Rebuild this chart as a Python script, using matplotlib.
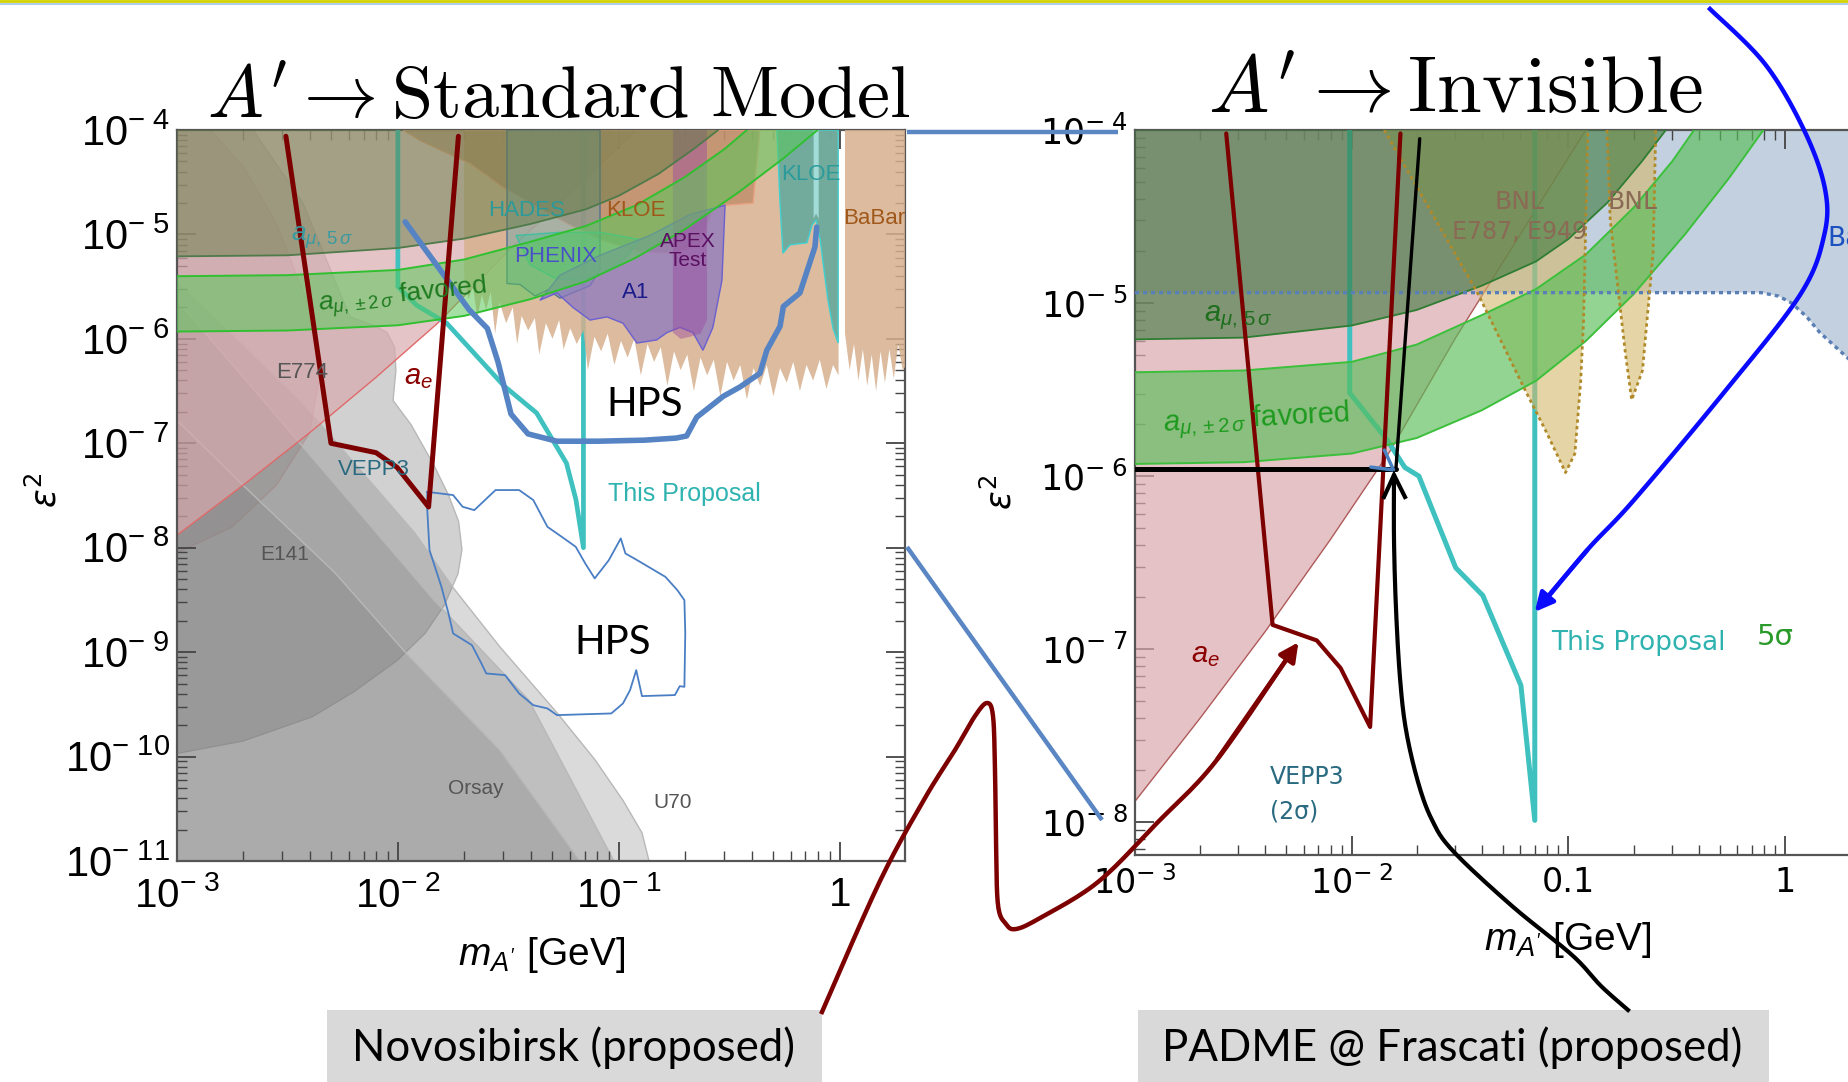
import numpy as np
import matplotlib
matplotlib.use("Agg")
import matplotlib.pyplot as plt
from matplotlib import font_manager as fm
from matplotlib.patches import Polygon, Rectangle
from matplotlib.colors import to_rgba
from matplotlib.ticker import LogLocator, NullFormatter, FixedLocator, FixedFormatter

_names = {f.name for f in fm.fontManager.ttflist}
NARROW = "Liberation Sans Narrow" if "Liberation Sans Narrow" in _names else "Liberation Sans"
SANS = "Liberation Sans"
WIDE = "DejaVu Sans"
CAL = "Lato" if "Lato" in _names else "DejaVu Sans"

plt.rcParams.update({
    "font.family": [SANS, "DejaVu Sans"],
    "mathtext.fontset": "custom",
    "mathtext.rm": SANS,
    "mathtext.it": SANS + ":italic",
    "mathtext.bf": SANS + ":bold",
    "mathtext.sf": SANS,
})

# ------------------------------------------------------------------
# DATA  (log10 of mass [GeV] and log10 of eps^2)
# ------------------------------------------------------------------
# shared physics bands (both panels)
amu5_lm = [-3, -2.5, -2, -1.7, -1.4, -1.15, -1.0, -0.82, -0.66, -0.55]
amu5_le = [-5.21, -5.20, -5.13, -5.04, -4.90, -4.76, -4.63, -4.42, -4.18, -4.0]
amu2hi_lm = [-3, -2.5, -2, -1.7, -1.4, -1.15, -0.92, -0.7, -0.52, -0.42]
amu2hi_le = [-5.40, -5.39, -5.34, -5.24, -5.07, -4.92, -4.72, -4.45, -4.18, -4.0]
amu2lo_lm = [-3, -2.5, -2, -1.7, -1.4, -1.15, -0.92, -0.7, -0.46, -0.26, -0.1]
amu2lo_le = [-5.93, -5.92, -5.87, -5.78, -5.62, -5.45, -5.22, -4.95, -4.6, -4.28, -4.0]
ae_lm = [-3, -2.7, -2.4, -2.1, -1.82, -1.52, -1.22, -0.92]
ae_le = [-7.88, -7.4, -6.9, -6.37, -5.85, -5.2, -4.6, -4.0]

# left panel: A' -> Standard Model
L_u70_lm = [-3, -2.443, -1.923, -1.751, -1.538, -1.280, -1.108, -0.981, -0.895, -0.863, -3]
L_u70_le = [-5.44, -6.59, -7.86, -8.38, -8.95, -9.58, -10.03, -10.42, -10.73, -11.0, -11.0]
L_e774_lm = [-3, -2.656, -2.430, -2.217, -2.10, -2.049, -2.015, -2.009, -2.022, -1.941, -1.837,
             -1.770, -1.725, -1.710, -1.728, -1.790, -1.877, -2.004, -2.200, -2.389, -2.700, -3]
L_e774_le = [-4.0, -4.0, -4.70, -5.79, -5.88, -5.94, -6.08, -6.30, -6.59, -6.82, -7.21,
             -7.50, -7.75, -8.02, -8.25, -8.55, -8.82, -9.08, -9.38, -9.62, -9.85, -9.97]
L_e774core_lm = [-3, -2.85, -2.70, -2.55, -2.42, -2.35, -2.40, -2.55, -2.75, -3]
L_e774core_le = [-4.0, -4.0, -4.35, -4.90, -5.60, -6.30, -6.90, -7.40, -7.80, -8.05]
L_e141_lm = [-3, -2.561, -1.837, -1.407, -1.022, -3]
L_e141_le = [-5.63, -6.71, -8.50, -9.46, -11.0, -11.0]
L_orsay_lm = [-3, -2.692, -2.285, -1.963, -1.538, -1.176, -3]
L_orsay_le = [-6.78, -7.42, -8.24, -9.01, -9.94, -11.0, -11.0]

L_tan_lm = [-1.70, -1.70, -1.68, -1.66, -1.64, -1.62, -1.60, -1.58, -1.56, -1.54, -1.51, -1.48,
            -1.46, -1.44, -1.41, -1.38, -1.36, -1.33, -1.30, -1.27, -1.25, -1.22, -1.19, -1.16,
            -1.14, -1.11, -1.08, -1.05, -1.02, -0.99, -0.96, -0.93, -0.90, -0.87, -0.84, -0.81,
            -0.78, -0.75, -0.72, -0.69, -0.66, -0.63, -0.60, -0.57, -0.54, -0.51, -0.48, -0.45,
            -0.42, -0.39, -0.36, -0.33, -0.30, -0.27, -0.24, -0.21, -0.18, -0.15, -0.12, -0.09,
            -0.06, -0.03, -0.005, -0.005]
L_tan_le = [-4.0, -5.40, -5.62, -5.50, -5.80, -5.58, -5.72, -5.55, -5.95, -5.65, -5.85, -5.70,
            -6.05, -5.78, -5.92, -5.80, -6.15, -5.85, -6.00, -5.82, -6.10, -5.90, -6.05, -5.92,
            -6.30, -5.98, -6.12, -5.95, -6.25, -6.02, -6.18, -6.00, -6.35, -6.05, -6.22, -6.08,
            -6.45, -6.12, -6.30, -6.15, -6.50, -6.18, -6.35, -6.20, -6.55, -6.22, -6.40, -6.25,
            -6.58, -6.28, -6.45, -6.25, -6.55, -6.28, -6.42, -6.22, -6.50, -6.25, -6.40, -6.20,
            -6.48, -6.25, -6.35, -4.0]
L_babar_lm = [0.024, 0.024, 0.045, 0.065, 0.085, 0.105, 0.125, 0.145, 0.165, 0.185, 0.205,
              0.225, 0.245, 0.265, 0.285, 0.32, 0.32]
L_babar_le = [-4.0, -5.95, -6.3, -6.05, -6.4, -6.1, -6.45, -6.15, -6.5, -6.12, -6.42,
              -6.1, -6.38, -6.05, -6.3, -6.2, -4.0]
L_kloe_lm = [-1.977, -1.900, -1.809, -1.674, -1.524, -1.370, -1.221, -1.085, -0.904, -0.755,
             -0.632, -0.574, -0.511, -0.392, -0.361]
L_kloe_le = [-4.0, -4.10, -4.19, -4.32, -4.55, -4.74, -4.91, -5.05, -5.17, -5.18,
             -5.10, -4.75, -4.72, -4.70, -4.0]
L_hades_lm = [-1.506, -1.506, -1.447, -1.379, -1.320, -1.266, -1.198, -1.130, -1.085, -1.085]
L_hades_le = [-4.0, -5.47, -5.48, -5.59, -5.53, -5.61, -5.55, -5.49, -5.34, -4.0]
L_phenix_lm = [-1.465, -1.402, -1.289, -1.176, -1.062, -0.972, -0.904, -1.085, -1.266]
L_phenix_le = [-5.01, -5.29, -5.42, -5.44, -5.36, -5.23, -5.05, -4.98, -4.98]
L_a1_lm = [-1.357, -1.280, -1.207, -1.130, -1.053, -0.981, -0.918, -0.828, -0.782, -0.723,
           -0.664, -0.619, -0.574, -0.533, -0.519, -0.678, -0.859, -1.085, -1.266]
L_a1_le = [-5.63, -5.56, -5.70, -5.82, -5.79, -5.85, -6.04, -6.01, -5.94, -5.89,
           -5.94, -6.11, -5.89, -5.44, -4.72, -4.81, -5.01, -5.20, -5.39]
L_apex_lm = [-0.755, -0.755, -0.72, -0.678, -0.63, -0.601, -0.601]
L_apex_le = [-4.0, -5.94, -6.0, -5.98, -5.95, -5.82, -4.0]
L_kloe2_lm = [-0.284, -0.270, -0.257, -0.225, -0.148, -0.125, -0.107, -0.088, -0.076, -0.053,
              -0.030, -0.007, -0.007]
L_kloe2_le = [-4.0, -4.7, -5.18, -5.10, -5.08, -4.91, -4.86, -5.05, -5.26, -5.63,
              -5.90, -6.04, -4.0]
L_kstrip_lm = [-0.118, -0.118, -0.107, -0.095, -0.095]
L_kstrip_le = [-4.0, -4.85, -4.80, -4.85, -4.0]

L_prop_lm = [-2.0, -2.0, -1.914, -1.779, -1.52, -1.372, -1.237, -1.194, -1.16, -1.16]
L_prop_le = [-4.0, -5.5, -5.68, -5.85, -6.45, -6.71, -7.19, -7.54, -8.0, -4.0]
L_hps_lm = [-1.967, -1.836, -1.678, -1.595, -1.547, -1.488, -1.411, -1.281, -1.092, -0.883,
            -0.740, -0.693, -0.647, -0.527, -0.451, -0.361, -0.330, -0.270, -0.255, -0.180,
            -0.112, -0.104]
L_hps_le = [-4.88, -5.26, -5.72, -5.90, -6.22, -6.72, -6.91, -6.98, -6.98, -6.97,
            -6.95, -6.93, -6.75, -6.55, -6.46, -6.33, -6.11, -5.88, -5.69, -5.56,
            -5.12, -4.93]
L_hpsthin_lm = [-1.867, -1.750, -1.707, -1.654, -1.558, -1.451, -1.387, -1.323, -1.258, -1.195,
                -1.152, -1.109, -1.045, -0.991, -0.970, -0.917, -0.789, -0.735, -0.703, -0.699,
                -0.703, -0.724, -0.746, -0.895, -0.921, -0.949, -0.981, -1.034, -1.280, -1.323,
                -1.387, -1.451, -1.515, -1.600, -1.622, -1.665, -1.750, -1.771, -1.803, -1.857,
                -1.867, -1.867]
L_hpsthin_le = [-7.465, -7.496, -7.608, -7.640, -7.448, -7.448, -7.544, -7.800, -7.896, -7.991,
                -8.150, -8.294, -8.119, -7.911, -8.055, -8.119, -8.279, -8.406, -8.502, -8.821,
                -9.332, -9.326, -9.411, -9.421, -9.172, -9.364, -9.491, -9.587, -9.603, -9.539,
                -9.508, -9.396, -9.220, -9.204, -9.108, -8.933, -8.821, -8.629, -8.374, -8.023,
                -7.640, -7.465]
L_vepp_lm = [-2.507, -2.303, -2.099, -2.004, -1.861, -1.726]
L_vepp_le = [-4.06, -7.0, -7.09, -7.23, -7.61, -4.06]

# right panel: A' -> invisible
R_babar_lm = [-3, -0.11, -0.03, 0.03, 0.10, 0.16, 0.30, 0.30, -3]
R_babar_le = [-4.94, -4.94, -4.96, -5.0, -5.08, -5.17, -5.33, -4.0, -4.0]
R_bnl1_lm = [-1.85, -1.42, -1.205, -1.1, -1.013, -0.97, -0.943, -0.93, -0.91]
R_bnl1_le = [-4.0, -4.94, -5.49, -5.75, -5.98, -5.87, -5.45, -5.1, -4.0]
R_bnl2_lm = [-0.822, -0.807, -0.737, -0.708, -0.658, -0.609, -0.597]
R_bnl2_le = [-4.0, -4.52, -5.29, -5.56, -5.39, -4.71, -4.0]
R_prop_lm = [-2.009, -2.009, -1.837, -1.755, -1.69, -1.52, -1.395, -1.219, -1.155, -1.155]
R_prop_le = [-4.0, -5.52, -5.79, -5.95, -6.0, -6.53, -6.69, -7.21, -7.99, -4.0]
R_vepp_lm = [-2.579, -2.365, -2.161, -2.051, -1.915, -1.775]
R_vepp_le = [-4.02, -6.86, -6.95, -7.11, -7.45, -4.02]
R_padme_lm = [-3, -1.796, -1.686]
R_padme_le = [-5.96, -5.96, -4.05]
R_tick_lm = [-1.849, -1.807, -1.912]
R_tick_le = [-5.85, -5.965, -5.948]

# axis ticks
L_xt = [1e-3, 1e-2, 1e-1, 1]
L_xtl = [r"$\mathregular{10^{-\ 3}}$", r"$\mathregular{10^{-\ 2}}$", r"$\mathregular{10^{-\ 1}}$", "1"]
L_yexp = [4, 5, 6, 7, 8, 9, 10, 11]
R_xt = [1e-3, 1e-2, 1e-1, 1]
R_xtl = [r"$\mathregular{10^{-\ 3}}$", r"$\mathregular{10^{-\ 2}}$", "0.1", "1"]
R_yexp = [4, 5, 6, 7, 8]

# ------------------------------------------------------------------
W, H = 1849, 1082
fig = plt.figure(figsize=(W / 100, H / 100), dpi=100)
fig.patch.set_facecolor("white")


def box(x0, y0, x1, y1):
    return [x0 / W, 1 - y1 / H, (x1 - x0) / W, (y1 - y0) / H]


axL = fig.add_axes(box(177, 130, 905, 861))
axR = fig.add_axes(box(1135, 130, 1849, 855))


def P(lm, le):
    return np.column_stack([10.0 ** np.asarray(lm, float), 10.0 ** np.asarray(le, float)])


def poly(ax, lm, le, fc, a, z, ec="none", elw=0.0, els="-"):
    ax.add_patch(Polygon(P(lm, le), closed=True, facecolor=to_rgba(fc, a),
                         edgecolor=ec, linewidth=elw, linestyle=els, zorder=z))


def line(ax, lm, le, c, lw, z, ls="-", a=1.0):
    xy = P(lm, le)
    ax.plot(xy[:, 0], xy[:, 1], color=c, lw=lw, ls=ls, alpha=a, zorder=z,
            solid_joinstyle="round", solid_capstyle="round")


def T(ax, x, y, s, **kw):
    kw.setdefault("ha", "center")
    kw.setdefault("va", "center")
    ax.text(x / W, 1 - y / H, s, transform=fig.transFigure, zorder=20, **kw)


def style(ax, xlim, ylim, xt, xtl, yexp, fam, fsx, fsy, right, padx):
    ax.set_xscale("log")
    ax.set_yscale("log")
    ax.set_xlim(*xlim)
    ax.set_ylim(*ylim)
    ax.xaxis.set_major_locator(FixedLocator(xt))
    ax.xaxis.set_major_formatter(FixedFormatter(xtl))
    yt = [10.0 ** (-e) for e in yexp]
    ax.yaxis.set_major_locator(FixedLocator(yt))
    ax.yaxis.set_major_formatter(FixedFormatter([r"$\mathregular{10^{-\ %d}}$" % e for e in yexp]))
    for a in (ax.xaxis, ax.yaxis):
        a.set_minor_locator(LogLocator(base=10, subs=np.arange(2, 10), numticks=40))
        a.set_minor_formatter(NullFormatter())
    ax.tick_params(which="both", direction="in", top=True, right=right, colors="#444444")
    ax.tick_params(which="major", length=14, width=1.3)
    ax.tick_params(which="minor", length=7, width=1.0)
    ax.tick_params(axis="x", which="major", labelsize=fsx, pad=padx, labelcolor="black",
                   labelfontfamily=fam)
    ax.tick_params(axis="y", which="major", labelsize=fsy, pad=5, labelcolor="black",
                   labelfontfamily=fam)
    for s in ax.spines.values():
        s.set_color("#555555")
        s.set_linewidth(1.6)
    if not right:
        ax.spines["right"].set_visible(False)


def bands(ax, c5, a5, e5, cb, ab, eb, z0):
    poly(ax, amu5_lm + [-3], amu5_le + [-4], c5, a5, z0)
    line(ax, amu5_lm, amu5_le, e5, 1.3, z0 + 0.5)
    poly(ax, amu2hi_lm + amu2lo_lm[::-1], amu2hi_le + amu2lo_le[::-1], cb, ab, z0 + 1)
    line(ax, amu2hi_lm, amu2hi_le, eb, 1.4, z0 + 1.5)
    line(ax, amu2lo_lm, amu2lo_le, eb, 1.4, z0 + 1.5)


# ---------------------------- LEFT PANEL ----------------------------
style(axL, (1e-3, 10 ** 0.2957), (1e-11, 1e-4), L_xt, L_xtl, L_yexp, NARROW, 29, 30, True, 11)
poly(axL, L_e774_lm, L_e774_le, "#7a7a7a", 0.34, 1, ec="#b8b8b8", elw=1.0)
poly(axL, L_e774core_lm, L_e774core_le, "#8a6a6a", 0.22, 1, ec="#c8a8a8", elw=1.0)
for lm, le in [(L_u70_lm, L_u70_le), (L_e141_lm, L_e141_le), (L_orsay_lm, L_orsay_le)]:
    poly(axL, lm, le, "#7a7a7a", 0.28, 1, ec="#b8b8b8", elw=1.0)
poly(axL, ae_lm + [-3], ae_le + [-4], "#d9a9ae", 0.68, 2)
line(axL, ae_lm, ae_le, "#e06a6a", 1.0, 2.5)
line(axL, L_prop_lm, L_prop_le, "#3ec1bf", 3.4, 2.8)
poly(axL, L_tan_lm, L_tan_le, "#d6b08e", 0.85, 3)
poly(axL, L_babar_lm, L_babar_le, "#d6b08e", 0.85, 3)
poly(axL, L_kloe_lm, L_kloe_le, "#a86a40", 0.45, 3.2, ec="#e8a080", elw=1.0)
poly(axL, L_hades_lm, L_hades_le, "#4aa0b0", 0.35, 3.3, ec="#507090", elw=1.0)
poly(axL, L_phenix_lm, L_phenix_le, "#40b890", 0.4, 3.4, ec="#40c0a0", elw=1.0)
poly(axL, L_a1_lm, L_a1_le, "#8c78c0", 0.75, 3.5, ec="#6a60d0", elw=1.0)
poly(axL, L_apex_lm, L_apex_le, "#9a4aa0", 0.45, 3.6)
poly(axL, L_kloe2_lm, L_kloe2_le, "#58a89c", 0.8, 3.7, ec="#40d0d0", elw=1.0)
poly(axL, L_kstrip_lm, L_kstrip_le, "#b0e8e8", 0.8, 3.8)
bands(axL, "#647e46", 0.5, "#4f7a4a", "#5ac85a", 0.55, "#30c030", 4)
line(axL, L_hpsthin_lm, L_hpsthin_le, "#4a7ec4", 1.3, 7)
line(axL, L_hps_lm, L_hps_le, "#5583c4", 4.0, 7.2)
line(axL, L_vepp_lm, L_vepp_le, "#7d0000", 3.6, 7.5)

fsL = 16
T(axL, 322, 238, r"$a_{\mu,\,5\,\sigma}$", color="#3a9aa0", fontsize=19)
T(axL, 403, 296, r"$a_{\mu,\pm2\,\sigma}$ favored", color="#1e7a1e", fontsize=19, rotation=6)
T(axL, 302, 373, "E774", color="#555555", fontsize=fsL)
T(axL, 418, 377, r"$a_e$", color="#8b0000", fontsize=21)
T(axL, 527, 211, "HADES", color="#2a9a9a", fontsize=fsL)
T(axL, 636, 211, "KLOE", color="#a0581a", fontsize=fsL)
T(axL, 556, 257, "PHENIX", color="#4a50c8", fontsize=fsL)
T(axL, 688, 251, "APEX\nTest", color="#5a1060", fontsize=15, linespacing=0.95)
T(axL, 636, 292, "A1", color="#1a1a8a", fontsize=fsL)
T(axL, 811, 174, "KLOE", color="#2a9a9a", fontsize=fsL)
T(axL, 874, 218, "BaBar", color="#a0581a", fontsize=fsL)
T(axL, 645, 404, "HPS", color="black", fontsize=29, family=CAL)
T(axL, 613, 643, "HPS", color="black", fontsize=29, family=CAL)
T(axL, 684, 494, "This Proposal", color="#2fb3b0", fontsize=18)
T(axL, 374, 470, "VEPP3", color="#2a6a80", fontsize=fsL)
T(axL, 285, 554, "E141", color="#555555", fontsize=15)
T(axL, 476, 788, "Orsay", color="#555555", fontsize=15)
T(axL, 673, 803, "U70", color="#555555", fontsize=15)
T(axL, 45, 490, r"$\varepsilon^2$", fontsize=25, rotation=90, math_fontfamily="dejavusans")
T(axL, 542, 955, r"$m_{A'}$ [GeV]", fontsize=28)

# ---------------------------- RIGHT PANEL ---------------------------
style(axR, (1e-3, 10 ** 0.295), (10 ** -8.19, 1e-4), R_xt, R_xtl, R_yexp, WIDE, 24, 25, False, 8)
poly(axR, R_babar_lm, R_babar_le, "#a9bdd2", 0.7, 1)
poly(axR, ae_lm + [-3], ae_le + [-4], "#d9a9ae", 0.7, 2)
line(axR, ae_lm, ae_le, "#b05a5a", 1.0, 2.5)
line(axR, R_prop_lm, R_prop_le, "#3ec1bf", 3.6, 2.8)
poly(axR, R_bnl1_lm, R_bnl1_le, "#d4b86a", 0.6, 3)
poly(axR, R_bnl2_lm, R_bnl2_le, "#d4b86a", 0.6, 3)
bands(axR, "#3c783c", 0.6, "#2e7d32", "#5abe5a", 0.65, "#3cc03c", 4)
line(axR, R_babar_lm[:7], R_babar_le[:7], "#5a7fb5", 2.4, 6, ls=(0, (1.2, 1.2)))
line(axR, R_bnl1_lm, R_bnl1_le, "#b08a2a", 2.0, 6, ls=(0, (1.2, 1.2)))
line(axR, R_bnl2_lm, R_bnl2_le, "#b08a2a", 2.0, 6, ls=(0, (1.2, 1.2)))
line(axR, R_vepp_lm, R_vepp_le, "#7d0000", 3.0, 7)
line(axR, R_padme_lm[:2], R_padme_le[:2], "black", 3.6, 7.5)
line(axR, R_padme_lm[1:], R_padme_le[1:], "black", 2.4, 7.5)
line(axR, R_tick_lm, R_tick_le, "#4a80c0", 2.5, 7.6)

T(axR, 1238, 318, r"$a_{\mu,\,5\,\sigma}$", color="#1e6e1e", fontsize=21)
T(axR, 1256, 420, r"$a_{\mu,\pm2\,\sigma}$ favored", color="#1e9a1e", fontsize=21, rotation=3)
T(axR, 1520, 202, "BNL", color="#8a6a55", fontsize=18, family=WIDE)
T(axR, 1520, 232, "E787, E949", color="#8a6a55", fontsize=17, family=WIDE)
T(axR, 1633, 202, "BNL", color="#8a6a55", fontsize=18, family=WIDE)
T(axR, 1827, 239, "BaBar", color="#1a50c0", fontsize=19, ha="left", family=WIDE)
T(axR, 1205, 655, r"$a_e$", color="#8b0000", fontsize=21)
T(axR, 1270, 777, "VEPP3", color="#2a6a80", fontsize=17, ha="left", family=WIDE)
T(axR, 1270, 812, "(2σ)", color="#2a6a80", fontsize=17, ha="left", family=WIDE)
T(axR, 1638, 643, "This Proposal", color="#2fb3b0", fontsize=19, family=WIDE)
T(axR, 1775, 637, "5σ", color="#2a9a2a", fontsize=21, family=WIDE)
T(axR, 1000, 492, r"$\varepsilon^2$", fontsize=25, rotation=90, math_fontfamily="dejavusans")
T(axR, 1568, 940, r"$m_{A'}$ [GeV]", fontsize=28)

# ---------------------------- OVERLAY -------------------------------
axO = fig.add_axes([0, 0, 1, 1], zorder=10)
axO.set_xlim(0, W)
axO.set_ylim(H, 0)
axO.axis("off")
axO.patch.set_alpha(0)


def smooth(xs, ys, n=14):
    """Catmull-Rom curve through the call-out control points (decoration only)."""
    p = np.column_stack([xs, ys]).astype(float)
    p = np.vstack([p[0], p, p[-1]])
    out = []
    for i in range(1, len(p) - 2):
        p0, p1, p2, p3 = p[i - 1], p[i], p[i + 1], p[i + 2]
        for t in np.linspace(0, 1, n, endpoint=False):
            t2, t3 = t * t, t * t * t
            out.append(0.5 * ((2 * p1) + (-p0 + p2) * t + (2 * p0 - 5 * p1 + 4 * p2 - p3) * t2
                              + (-p0 + 3 * p1 - 3 * p2 + p3) * t3))
    out.append(p[-2])
    out = np.array(out)
    return out[:, 0], out[:, 1]


axO.plot([0, W], [1.0, 1.0], color="#d4d400", lw=2.0)
axO.plot([0, W], [3.5, 3.5], color="#9fc5e8", lw=1.2)

axO.text(559, 118, r"$A' \rightarrow \mathrm{Standard\ Model}$", math_fontfamily="cm",
         fontsize=53.5, ha="center", va="baseline")
axO.text(1455, 113, r"$A' \rightarrow \mathrm{Invisible}$", math_fontfamily="cm",
         fontsize=58, ha="center", va="baseline")

# zoom guide lines (left panel edge -> right panel)
zoom1_x = [907, 1118]
zoom1_y = [132, 132]
zoom2_x = [907, 1102]
zoom2_y = [547, 820]
axO.plot(zoom1_x, zoom1_y, color="#5a86c4", lw=3.2, solid_capstyle="butt")
axO.plot(zoom2_x, zoom2_y, color="#5a86c4", lw=3.2, solid_capstyle="butt")

# call-out curves
nov_x = [822, 880, 925, 955, 975, 987, 993, 995, 996, 998, 1006, 1016, 1040, 1098, 1157, 1216, 1290]
nov_y = [1012, 881, 798, 750, 716, 703, 716, 770, 840, 905, 924, 929, 918, 882, 823, 761, 654]
sx, sy = smooth(nov_x, nov_y)
axO.plot(sx, sy, color="#7d0000", lw=3.2, solid_joinstyle="round")
axO.annotate("", xy=(1300, 640), xytext=(nov_x[-2], nov_y[-2]),
             arrowprops=dict(arrowstyle="-|>", color="#7d0000", lw=3.2, mutation_scale=28))

pad_x = [1628, 1601, 1572, 1512, 1453, 1432, 1418, 1406, 1400, 1396, 1394, 1394]
pad_y = [1010, 986, 955, 906, 851, 820, 782, 730, 678, 609, 540, 476]
sx, sy = smooth(pad_x, pad_y)
axO.plot(sx, sy, color="black", lw=3.0, solid_joinstyle="round")
axO.plot([1384, 1394, 1405], [497, 475, 497], color="black", lw=3.0, solid_joinstyle="miter")

inv_x = [1710, 1765, 1804, 1825, 1824, 1800, 1726, 1634, 1589, 1548]
inv_y = [9, 64, 130, 189, 236, 295, 390, 500, 548, 597]
sx, sy = smooth(inv_x, inv_y)
axO.plot(sx, sy, color="#0a0aff", lw=3.2, solid_joinstyle="round")
axO.annotate("", xy=(1533, 614), xytext=(inv_x[-2], inv_y[-2]),
             arrowprops=dict(arrowstyle="-|>", color="#0a0aff", lw=3.2, mutation_scale=28))

# proposal boxes
axO.add_patch(Rectangle((327, 1010), 495, 72, facecolor="#d9d9d9", edgecolor="none"))
axO.add_patch(Rectangle((1138, 1010), 631, 72, facecolor="#d9d9d9", edgecolor="none"))
axO.text(574, 1048, "Novosibirsk (proposed)", fontsize=31.5, family=CAL, ha="center", va="center")
axO.text(1452, 1048, "PADME @ Frascati (proposed)", fontsize=31.5, family=CAL, ha="center", va="center")

fig.savefig("out.png", dpi=100, facecolor="white")
